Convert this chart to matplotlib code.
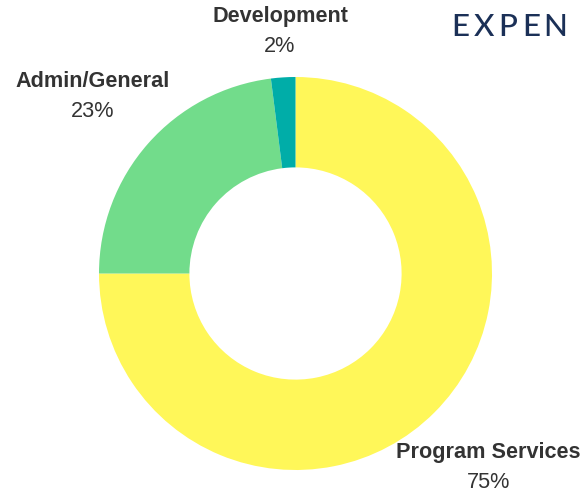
import matplotlib
matplotlib.use("Agg")
import matplotlib.pyplot as plt

categories = ["Program Services", "Admin/General", "Development"]
values = [75, 23, 2]
pct_labels = ["75%", "23%", "2%"]
colors = ["#FFF759", "#72DC8B", "#00ADA8"]
title_letters = ["E", "X", "P", "E", "N"]

W, H = 582, 491
fig = plt.figure(figsize=(W / 100, H / 100), dpi=100)
ax = fig.add_axes([0, 0, 1, 1])
ax.set_xlim(0, W)
ax.set_ylim(0, H)
ax.axis("off")

cx, cy, R = 295.5, H - 273.5, 196.5
ax.pie(values, colors=colors, startangle=90, counterclock=False,
       center=(cx, cy), radius=R,
       wedgeprops=dict(width=R * 0.46, linewidth=0))
ax.set_xlim(0, W)
ax.set_ylim(0, H)
ax.set_aspect("equal")

plt.rcParams["font.family"] = ["Liberation Sans", "DejaVu Sans"]
fs = 15.6
txt_col = "#333333"
# label positions (x center, baseline of name, baseline of pct) in px from top
label_pos = {
    "Program Services": (488.5, 458.3, 488.3),
    "Admin/General": (93.0, 86.7, 117.3),
    "Development": (280.0, 21.7, 51.7),
}
for cat, pct in zip(categories, pct_labels):
    x, yb1, yb2 = label_pos[cat]
    ax.text(x, H - yb1, cat, ha="center", va="baseline", fontsize=fs,
            fontweight="bold", color=txt_col, family=["Liberation Sans", "DejaVu Sans"])
    ax.text(x, H - yb2, pct, ha="center", va="baseline", fontsize=fs,
            color=txt_col, family=["Liberation Sans", "DejaVu Sans"])

# spaced title, clipped at the right
x0, pitch = 460.0, 23.7
for i, ch in enumerate(title_letters):
    ax.text(x0 + i * pitch, H - 36, ch, ha="center", va="baseline",
            fontsize=22.5, color="#1B3057", family=["Lato", "DejaVu Sans"],
            fontweight="medium")

fig.savefig("out.png", dpi=100)
